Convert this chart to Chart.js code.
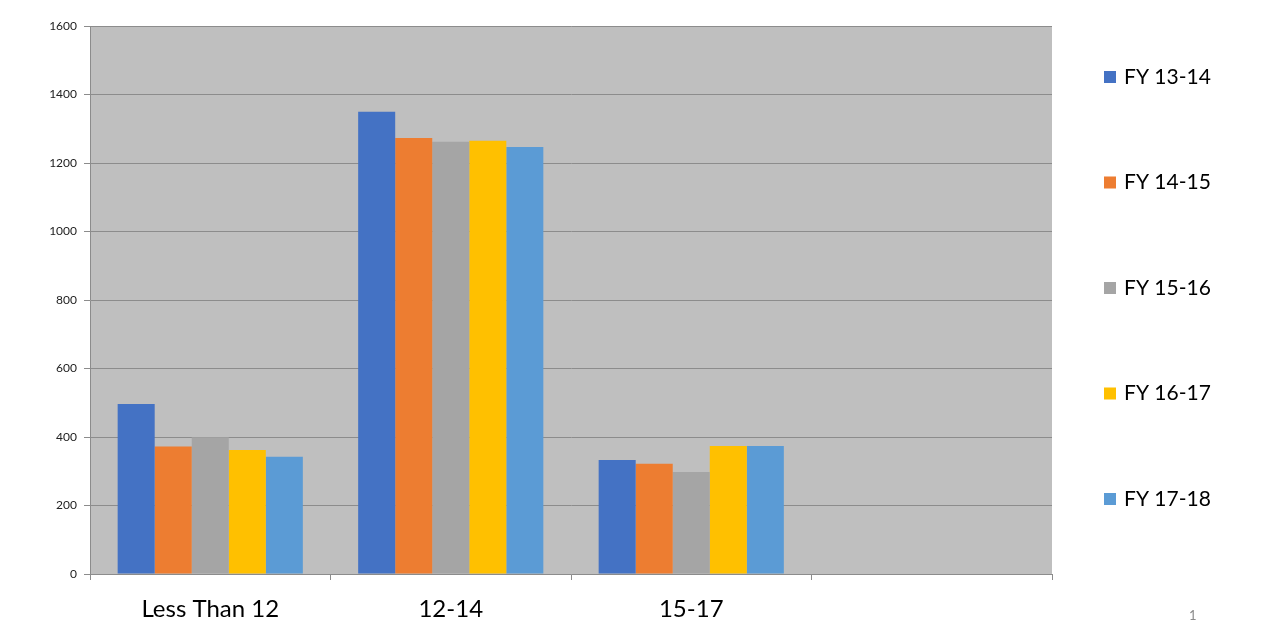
<!DOCTYPE html>
<html>
<head>
<meta charset="utf-8">
<script src="https://cdn.jsdelivr.net/npm/chart.js@4"></script>
<style>
  body { margin: 0; background: #fff; }
  #wrap { position: relative; width: 1266px; height: 644px; }
  #pageNum { position: absolute; left: 1189px; top: 607px; font: 13px Lato, sans-serif; color: #8a8a8a; }
</style>
</head>
<body>
<div id="wrap">
  <canvas id="ageChart" width="1266" height="644"></canvas>
  <div id="pageNum">1</div>
</div>
<script>
// categories and values
const categories = ['Less Than 12', '12-14', '15-17', ''];
const seriesNames = ['FY 13-14', 'FY 14-15', 'FY 15-16', 'FY 16-17', 'FY 17-18'];
const fy1314 = [496, 1350, 333, null];
const fy1415 = [372, 1273, 322, null];
const fy1516 = [399, 1262, 298, null];
const fy1617 = [362, 1265, 374, null];
const fy1718 = [342, 1247, 374, null];
const yTicks = [0, 200, 400, 600, 800, 1000, 1200, 1400, 1600];

const colors = ['#4472C4', '#ED7D31', '#A5A5A5', '#FFC000', '#5B9BD5'];
const allSeries = [fy1314, fy1415, fy1516, fy1617, fy1718];

// grey plot background
const plotBg = {
  id: 'plotBg',
  beforeDraw(chart) {
    const a = chart.chartArea;
    const ctx = chart.ctx;
    ctx.save();
    ctx.fillStyle = '#BFBFBF';
    ctx.fillRect(a.left, a.top, a.right - a.left, a.bottom - a.top);
    ctx.restore();
  }
};

// legend on the right, spaced out like the slide
const sideLegend = {
  id: 'sideLegend',
  afterDraw(chart) {
    const ctx = chart.ctx;
    ctx.save();
    ctx.font = '21px Lato, sans-serif';
    ctx.textBaseline = 'middle';
    chart.data.datasets.forEach(function(ds, i) {
      const y = 77 + i * 105.5;
      ctx.fillStyle = ds.backgroundColor;
      ctx.fillRect(1104, y - 6, 12, 12);
      ctx.fillStyle = '#000';
      ctx.fillText(ds.label, 1124, y);
    });
    ctx.restore();
  }
};

new Chart(document.getElementById('ageChart'), {
  type: 'bar',
  data: {
    labels: categories,
    datasets: seriesNames.map(function(name, i) {
      return {
        label: name,
        data: allSeries[i],
        backgroundColor: colors[i],
        borderWidth: 0,
        barPercentage: 1.0,
        categoryPercentage: 0.77
      };
    })
  },
  options: {
    responsive: false,
    animation: false,
    layout: { padding: { top: 26, right: 214, left: 0, bottom: 0 } },
    plugins: {
      legend: { display: false },
      tooltip: { enabled: false }
    },
    scales: {
      x: {
        offset: true,
        grid: {
          offset: true,
          drawOnChartArea: false,
          drawTicks: true,
          tickLength: 6,
          color: '#8c8c8c'
        },
        border: { color: '#8c8c8c' },
        ticks: {
          padding: 15,
          color: '#000',
          font: { family: 'Lato, sans-serif', size: 24 }
        },
        afterFit(scale) { scale.height = 70; }
      },
      y: {
        min: 0,
        max: 1600,
        afterBuildTicks(scale) { scale.ticks = yTicks.map(function(v) { return { value: v }; }); },
        grid: { color: '#8c8c8c', tickLength: 6 },
        border: { color: '#8c8c8c' },
        ticks: {
          padding: 7,
          color: '#222',
          font: { family: 'Lato, sans-serif', size: 12 },
          callback: function(v) { return String(v); }
        },
        afterFit(scale) { scale.width = 90; }
      }
    }
  },
  plugins: [plotBg, sideLegend]
});
</script>
</body>
</html>
